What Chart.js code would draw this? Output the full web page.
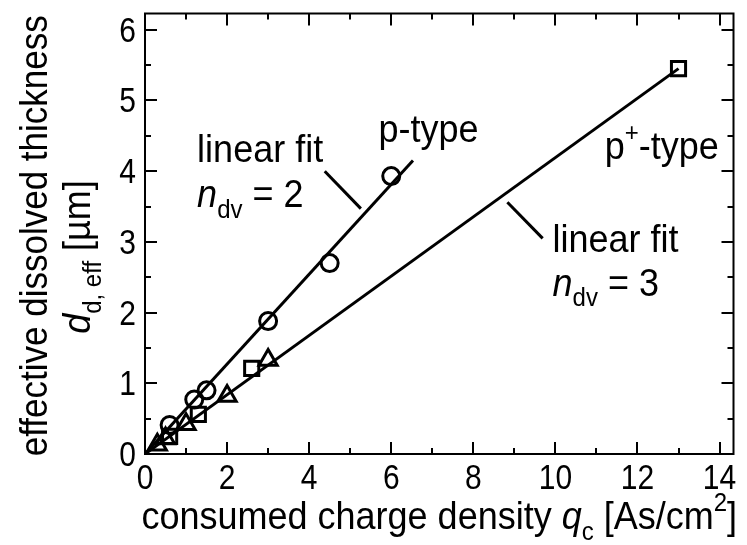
<!DOCTYPE html>
<html>
<head>
<meta charset="utf-8">
<script src="https://cdn.jsdelivr.net/npm/chart.js@4/dist/chart.umd.min.js"></script>
<style>
  html, body { margin: 0; padding: 0; background: #fff; }
  #wrap { width: 747px; height: 545px; position: relative; }
</style>
</head>
<body>
<div id="wrap"><canvas id="chart" width="747" height="545"></canvas></div>
<script>
// Measured points: consumed charge density q_c [As/cm^2] vs effective dissolved thickness [µm]
const pTypeQ = [0.6, 1.2, 1.5, 3.0, 4.5, 6.0];
const pTypeD = [0.41, 0.77, 0.90, 1.88, 2.70, 3.93];
const pPlusSquareQ = [0.6, 1.3, 2.6, 13.0];
const pPlusSquareD = [0.25, 0.56, 1.21, 5.45];
const pPlusTriangleQ = [0.3, 0.5, 1.0, 2.0, 3.0];
const pPlusTriangleD = [0.13, 0.22, 0.42, 0.82, 1.33];

// Linear fits through the origin (n_dv = 2 and n_dv = 3)
const fitN2Q = [0, 6.53];
const fitN2D = [0, 4.15];
const fitN3Q = [0, 13.0];
const fitN3D = [0, 5.45];

// Leader lines connecting the fit labels to the fit lines
const leaderN2Q = [4.38, 5.26];
const leaderN2D = [4.00, 3.47];
const leaderN3Q = [8.83, 9.69];
const leaderN3D = [3.56, 3.05];

// Axis ticks
const xMajorTicks = [0, 2, 4, 6, 8, 10, 12, 14];
const xMinorTicks = [1, 3, 5, 7, 9, 11, 13];
const yMajorTicks = [0, 1, 2, 3, 4, 5, 6];
const yMinorTicks = [0.5, 1.5, 2.5, 3.5, 4.5, 5.5];

const X_MIN = 0, X_MAX = 14.34;
const Y_MIN = 0, Y_MAX = 6.23;

const FONT = "'Liberation Sans', Arial, Helvetica, sans-serif";
const INK = '#000';
const STRETCH = 1.07;   // slight vertical stretch of the lettering

const toXY = (xs, ys) => xs.map((x, i) => ({ x: x, y: ys[i] }));

// Styled text runs (normal / italic / sub- and superscripts)
function runWidth(ctx, runs) {
  let w = 0;
  for (const r of runs) { ctx.font = r.font; w += ctx.measureText(r.t).width; }
  return w;
}
function drawRuns(ctx, x, y, runs, sy) {
  ctx.save();
  ctx.translate(x, y);
  ctx.scale(1, sy || STRETCH);
  let cx = 0;
  for (const r of runs) {
    ctx.font = r.font;
    ctx.fillText(r.t, cx, r.dy || 0);
    cx += ctx.measureText(r.t).width;
  }
  ctx.restore();
}
const big = (s) => ({ t: s, font: `36px ${FONT}` });
const bigIt = (s) => ({ t: s, font: `italic 36px ${FONT}` });
const sub = (s, dy) => ({ t: s, font: `24px ${FONT}`, dy: dy });

const framePlugin = {
  id: 'frameAndText',
  afterDatasetsDraw(chart) {
    const { ctx, chartArea: a, scales } = chart;
    const xs = scales.x, ys = scales.y;
    ctx.save();
    ctx.strokeStyle = INK;
    ctx.fillStyle = INK;

    // frame
    ctx.lineWidth = 2;
    ctx.strokeRect(a.left, a.top, a.right - a.left, a.bottom - a.top);

    // inward ticks on all four sides
    const MAJ = 12, MIN = 6;
    ctx.lineWidth = 2;
    ctx.beginPath();
    const xt = (v, len) => {
      const px = Math.round(xs.getPixelForValue(v));
      ctx.moveTo(px, a.bottom); ctx.lineTo(px, a.bottom - len);
      ctx.moveTo(px, a.top); ctx.lineTo(px, a.top + len);
    };
    const yt = (v, len) => {
      const py = Math.round(ys.getPixelForValue(v));
      ctx.moveTo(a.left, py); ctx.lineTo(a.left + len, py);
      ctx.moveTo(a.right, py); ctx.lineTo(a.right - len, py);
    };
    xMajorTicks.forEach(v => xt(v, MAJ));
    xMinorTicks.forEach(v => xt(v, MIN));
    yMajorTicks.forEach(v => yt(v, MAJ));
    yMinorTicks.forEach(v => yt(v, MIN));
    ctx.stroke();

    // tick labels
    const tickFont = { font: `30px ${FONT}` };
    ctx.textBaseline = 'alphabetic';
    ctx.textAlign = 'center';
    xMajorTicks.forEach(v =>
      drawRuns(ctx, xs.getPixelForValue(v), a.bottom + 35, [{ t: String(v), ...tickFont }], 1.14));
    ctx.textAlign = 'right';
    yMajorTicks.forEach(v =>
      drawRuns(ctx, a.left - 9, ys.getPixelForValue(v) + 12, [{ t: String(v), ...tickFont }], 1.14));

    // axis titles
    ctx.textAlign = 'left';
    const xTitle = [big('consumed charge density '), bigIt('q'), sub('c', 10),
                    big(' [As/cm'), sub('2', -17), big(']')];
    const xw = runWidth(ctx, xTitle);
    drawRuns(ctx, (a.left + a.right) / 2 - xw / 2, 529, xTitle);

    const yTitle1 = [{ t: 'effective dissolved thickness', font: `35px ${FONT}` }];
    const yTitle2 = [bigIt('d'), sub('d, eff', 10), big(' [\u00b5m]')];
    ctx.save();
    ctx.translate(47, (a.top + a.bottom) / 2 + 2);
    ctx.rotate(-Math.PI / 2);
    drawRuns(ctx, -runWidth(ctx, yTitle1) / 2, 0, yTitle1, 1.1);
    ctx.restore();
    ctx.save();
    ctx.translate(90, 257);
    ctx.rotate(-Math.PI / 2);
    drawRuns(ctx, -runWidth(ctx, yTitle2) / 2, 0, yTitle2);
    ctx.restore();

    // in-plot labels (anchored in data coordinates)
    const P = (q, d) => [xs.getPixelForValue(q), ys.getPixelForValue(d)];
    let p;
    p = P(1.27, 4.13); drawRuns(ctx, p[0], p[1], [big('linear fit')]);
    p = P(1.27, 3.49); drawRuns(ctx, p[0], p[1], [bigIt('n'), sub('dv', 10), big(' = 2')]);
    p = P(5.69, 4.41); drawRuns(ctx, p[0], p[1], [big('p-type')]);
    p = P(11.2, 4.17); drawRuns(ctx, p[0], p[1], [big('p'), sub('+', -17), big('-type')]);
    p = P(9.93, 2.85); drawRuns(ctx, p[0], p[1], [big('linear fit')]);
    p = P(9.93, 2.24); drawRuns(ctx, p[0], p[1], [bigIt('n'), sub('dv', 10), big(' = 3')]);

    ctx.restore();
  }
};

const lineDs = (xs, ys) => ({
  type: 'line',
  data: toXY(xs, ys),
  borderColor: INK,
  borderWidth: 3,
  pointRadius: 0,
  fill: false,
  tension: 0,
  order: 2
});
const markerDs = (xs, ys, style, r) => ({
  type: 'scatter',
  data: toXY(xs, ys),
  pointStyle: style,
  pointRadius: r,
  pointHoverRadius: r,
  pointBorderWidth: 3,
  pointBorderColor: INK,
  pointBackgroundColor: 'rgba(0,0,0,0)',
  showLine: false,
  order: 1
});

new Chart(document.getElementById('chart'), {
  data: {
    datasets: [
      lineDs(fitN2Q, fitN2D),
      lineDs(fitN3Q, fitN3D),
      lineDs(leaderN2Q, leaderN2D),
      lineDs(leaderN3Q, leaderN3D),
      markerDs(pTypeQ, pTypeD, 'circle', 8.5),
      markerDs(pPlusSquareQ, pPlusSquareD, 'rect', 10),
      markerDs(pPlusTriangleQ, pPlusTriangleD, 'triangle', 10.5)
    ]
  },
  options: {
    responsive: false,
    animation: false,
    events: [],
    layout: { padding: { left: 145, right: 1, top: 9, bottom: 91 } },
    plugins: { legend: { display: false }, tooltip: { enabled: false } },
    scales: {
      x: { type: 'linear', min: X_MIN, max: X_MAX, display: false },
      y: { type: 'linear', min: Y_MIN, max: Y_MAX, display: false }
    }
  },
  plugins: [framePlugin]
});
</script>
</body>
</html>
